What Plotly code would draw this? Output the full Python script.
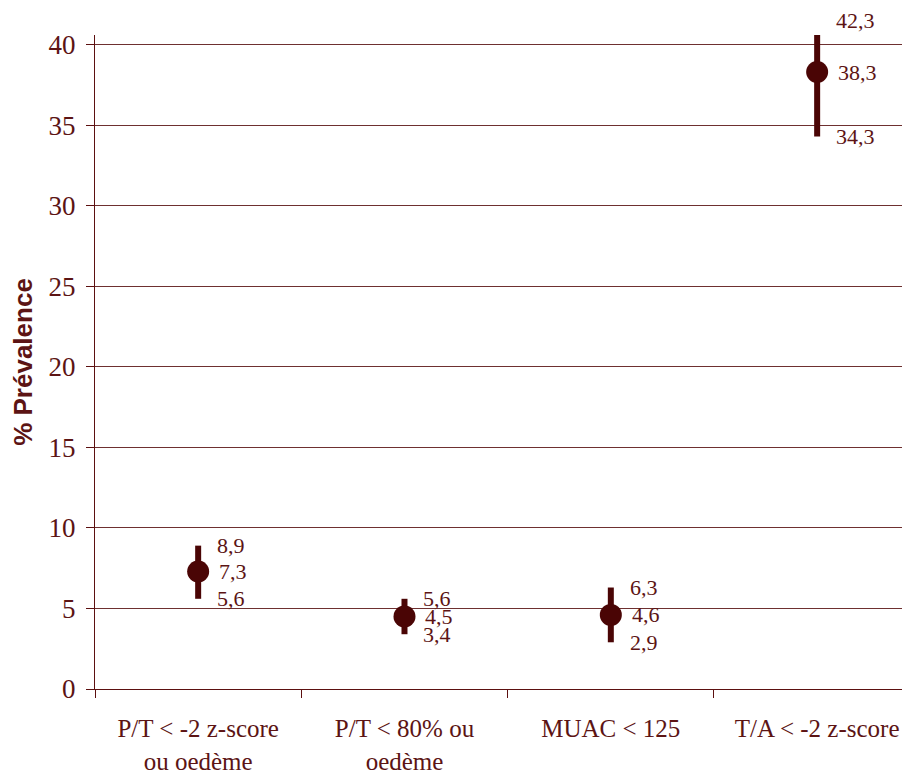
import plotly.graph_objects as go

categories = ["P/T < -2 z-score<br>ou oedème", "P/T < 80% ou<br>oedème", "MUAC < 125", "T/A < -2 z-score"]
prevalence = [7.3, 4.5, 4.6, 38.3]
ci_low = [5.6, 3.4, 2.9, 34.3]
ci_high = [8.9, 5.6, 6.3, 42.3]
y_ticks = [0, 5, 10, 15, 20, 25, 30, 35, 40]

Y_MAX = 40.6
TEXT = "#5c1414"
MARK = "#4a0505"
AXIS = "#5c1010"
GRID = "#6e3030"
SERIF = "Liberation Serif, Times New Roman, serif"

fig = go.Figure()
fig.add_trace(go.Scatter(
    x=categories, y=prevalence, mode="markers",
    marker=dict(size=22, color=MARK),
    error_y=dict(type="data", symmetric=False,
                 array=[h - v for h, v in zip(ci_high, prevalence)],
                 arrayminus=[v - l for v, l in zip(prevalence, ci_low)],
                 thickness=6, width=0, color=MARK),
    cliponaxis=True, showlegend=False, hoverinfo="skip",
))

for c, v, lo, hi in zip(categories, prevalence, ci_low, ci_high):
    for val in (hi, v, lo):
        beyond = val > Y_MAX
        fig.add_annotation(x=c, y=Y_MAX if beyond else val,
                           text=f"{val:.1f}".replace(".", ","),
                           xref="x", yref="y", xanchor="left", yanchor="middle",
                           xshift=17 if val != v else 19, yshift=15 if beyond else 0,
                           showarrow=False,
                           font=dict(family=SERIF, size=22, color=TEXT))

fig.update_layout(
    width=902, height=765,
    margin=dict(l=87, r=0, t=27, b=84),
    plot_bgcolor="white", paper_bgcolor="white",
    font=dict(family=SERIF, color=TEXT),
    xaxis=dict(type="category", range=[-0.5, 3.45], tickson="boundaries",
               ticks="outside", ticklen=8, tickcolor=AXIS, tickwidth=1,
               showline=True, linecolor=AXIS, linewidth=1, showgrid=False,
               automargin=False,
               tickfont=dict(family=SERIF, size=25, color=TEXT), ticklabelstandoff=17),
    yaxis=dict(range=[0, Y_MAX], tickvals=y_ticks, ticks="outside", ticklen=8,
               tickcolor=AXIS, showline=True, linecolor=AXIS, linewidth=1,
               showgrid=True, gridcolor=GRID, gridwidth=1, zeroline=False,
               automargin=False,
               tickfont=dict(family=SERIF, size=27, color=TEXT), ticklabelstandoff=5,
               title=dict(text="<b>% Prévalence</b>", standoff=9,
                          font=dict(family="Liberation Sans, Arial, sans-serif", size=26, color=TEXT))),
)

fig.write_html("out.html")
